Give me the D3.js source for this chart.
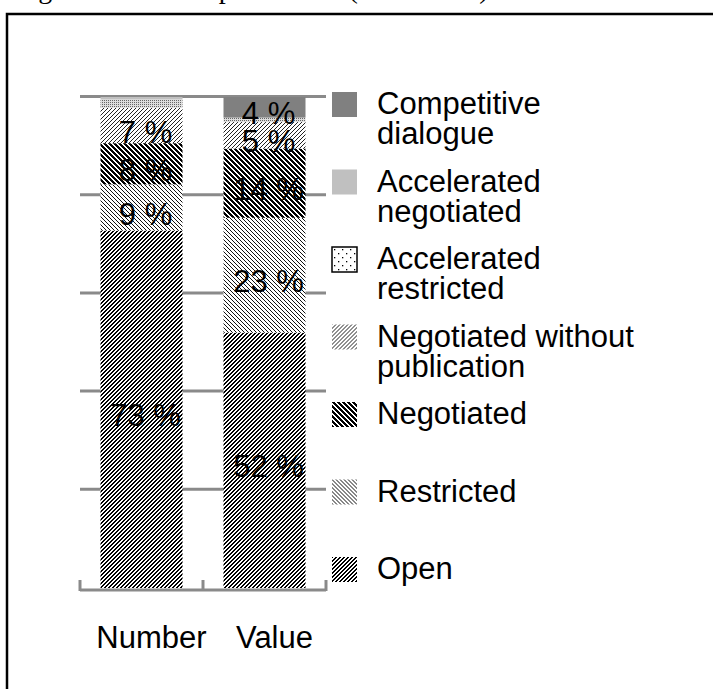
<!DOCTYPE html>
<html>
<head>
<meta charset="utf-8">
<script src="https://cdn.jsdelivr.net/npm/d3@7"></script>
<style>
  body { margin: 0; background: #fff; }
  svg { display: block; font-family: "Liberation Sans", Arial, sans-serif; }
</style>
</head>
<body>
<div id="canvas"></div>
<script>
const w = 713;
const h = 689;

// data (shares in %)
const categories = ["Number", "Value"];
const procedures = ["Open", "Restricted", "Negotiated", "Negotiated without publication",
                    "Accelerated restricted", "Accelerated negotiated", "Competitive dialogue"];
const numberShares = [72.8, 9.4, 8.4, 7.2, 1.7, 0.5, 0];
const valueShares  = [52.0, 23.4, 14.1, 5.4, 0.9, 0, 4.2];
const yTicks = [0, 20, 40, 60, 80, 100];
const legendLines = {
  "Competitive dialogue": ["Competitive", "dialogue"],
  "Accelerated negotiated": ["Accelerated", "negotiated"],
  "Accelerated restricted": ["Accelerated", "restricted"],
  "Negotiated without publication": ["Negotiated without", "publication"],
  "Negotiated": ["Negotiated"],
  "Restricted": ["Restricted"],
  "Open": ["Open"]
};
const caption = "Figure 10: Use of procedures (2006-2010)";

const rows = categories.map((c, i) => {
  const r = { cat: c };
  procedures.forEach((p, j) => r[p] = (i === 0 ? numberShares : valueShares)[j]);
  return r;
});
const series = d3.stack().keys(procedures)(rows);

const svg = d3.select("#canvas").append("svg").attr("width", w).attr("height", h);

// pixel hatch patterns (no rotation, so the stripes stay crisp)
const defs = svg.append("defs");
function hatch(id, dir, n, lw, col) {
  const p = defs.append("pattern").attr("id", id)
    .attr("patternUnits", "userSpaceOnUse")
    .attr("width", n).attr("height", n);
  p.append("rect").attr("width", n).attr("height", n).attr("fill", "#fff");
  for (let r = 0; r < n; r++) {
    for (let k = 0; k < lw; k++) {
      const c = dir === "/" ? ((n - 1 - r + k) % n) : ((r + k) % n);
      p.append("rect").attr("x", c).attr("y", r).attr("width", 1).attr("height", 1)
        .attr("fill", col).attr("shape-rendering", "crispEdges");
    }
  }
}
hatch("p-open", "/", 4, 2, "#000");
hatch("p-restricted", "\\", 4, 1, "#111");
hatch("p-negotiated", "\\", 5, 3, "#000");
hatch("p-nwp", "/", 4, 1, "#222");
const dots = defs.append("pattern").attr("id", "p-dots").attr("patternUnits", "userSpaceOnUse")
  .attr("width", 2).attr("height", 2);
dots.append("rect").attr("width", 2).attr("height", 2).attr("fill", "#ddd");
dots.append("rect").attr("width", 1).attr("height", 1).attr("fill", "#666");
const sparse = defs.append("pattern").attr("id", "p-dots-sparse").attr("patternUnits", "userSpaceOnUse")
  .attr("width", 8).attr("height", 8);
sparse.append("rect").attr("width", 8).attr("height", 8).attr("fill", "#fff");
sparse.append("rect").attr("x", 2).attr("y", 2).attr("width", 1.3).attr("height", 1.3).attr("fill", "#000");
sparse.append("rect").attr("x", 6).attr("y", 6).attr("width", 1.3).attr("height", 1.3).attr("fill", "#000");

const fills = {
  "Open": "url(#p-open)",
  "Restricted": "url(#p-restricted)",
  "Negotiated": "url(#p-negotiated)",
  "Negotiated without publication": "url(#p-nwp)",
  "Accelerated restricted": "url(#p-dots)",
  "Accelerated negotiated": "#c0c0c0",
  "Competitive dialogue": "#808080"
};
const legendFills = Object.assign({}, fills, { "Accelerated restricted": "url(#p-dots-sparse)" });

// caption (cut off at the top) and frame
svg.append("text").text(caption)
  .attr("x", 15).attr("y", -2)
  .style("font-family", "'Liberation Serif', 'Times New Roman', serif")
  .style("font-size", "28px");
svg.append("rect").attr("x", 7).attr("y", 14).attr("width", w + 10).attr("height", h + 10)
  .attr("fill", "none").attr("stroke", "#000").attr("stroke-width", 2.5);

const x = d3.scaleBand().domain(categories).range([80, 326]).paddingInner(1 / 3).paddingOuter(1 / 6);
const y = d3.scaleLinear().domain([0, 100]).range([588, 97]);

// gridlines
svg.append("g").selectAll("line")
  .data(yTicks.filter(d => d > 0))
  .enter().append("line")
  .attr("x1", 80).attr("x2", 326)
  .attr("y1", d => y(d) - 0.5).attr("y2", d => y(d) - 0.5)
  .attr("stroke", "#8a8a8a").attr("stroke-width", 3);

// bars
svg.append("g").selectAll("g")
  .data(series)
  .enter().append("g")
  .attr("fill", d => fills[d.key])
  .selectAll("rect")
  .data(d => d)
  .enter().append("rect")
  .attr("x", d => x(d.data.cat))
  .attr("width", x.bandwidth())
  .attr("y", d => y(d[1]))
  .attr("height", d => y(d[0]) - y(d[1]));

// data labels
const labels = [];
series.forEach(s => s.forEach(d => {
  const v = d[1] - d[0];
  if (v >= 3) labels.push({ cat: d.data.cat, mid: (d[0] + d[1]) / 2, v: v });
}));
svg.append("g").selectAll("text")
  .data(labels)
  .enter().append("text")
  .attr("x", d => x(d.cat) + x.bandwidth() / 2 + 4)
  .attr("y", d => y(d.mid))
  .attr("dy", "0.55em")
  .attr("text-anchor", "middle")
  .style("font-size", "31px")
  .text(d => Math.round(d.v) + " %");

// category axis
const axisG = svg.append("g").attr("stroke", "#8a8a8a").attr("stroke-width", 3).attr("fill", "none");
axisG.append("line").attr("x1", 80).attr("x2", 326).attr("y1", y(0) + 2).attr("y2", y(0) + 2);
const edges = [x.range()[0]].concat(categories.map(c => x(c) + x.bandwidth() + x.step() * x.paddingInner() / 2));
edges[edges.length - 1] = x.range()[1];
axisG.selectAll(".tick").data(edges).enter().append("line")
  .attr("x1", d => d).attr("x2", d => d)
  .attr("y1", y(0) - 8).attr("y2", y(0) + 3);

svg.append("g").selectAll("text")
  .data(categories)
  .enter().append("text")
  .attr("x", d => x(d) + x.bandwidth() / 2 + 10)
  .attr("y", 648)
  .attr("text-anchor", "middle")
  .style("font-size", "31px")
  .text(d => d);

// legend
const legendOrder = procedures.slice().reverse();
const legend = svg.append("g").selectAll("g")
  .data(legendOrder)
  .enter().append("g")
  .attr("transform", (d, i) => "translate(332," + (92 + i * 77.5) + ")");
legend.append("rect")
  .attr("width", 25).attr("height", 25)
  .attr("fill", d => legendFills[d])
  .attr("stroke", d => d === "Accelerated restricted" ? "#000" : "none")
  .attr("stroke-width", 1.5);
legend.append("text")
  .attr("x", 45).attr("y", 22)
  .style("font-size", "31px")
  .selectAll("tspan")
  .data(d => legendLines[d])
  .enter().append("tspan")
  .attr("x", 45)
  .attr("dy", (d, i) => i === 0 ? 0 : 30)
  .text(d => d);
</script>
</body>
</html>
